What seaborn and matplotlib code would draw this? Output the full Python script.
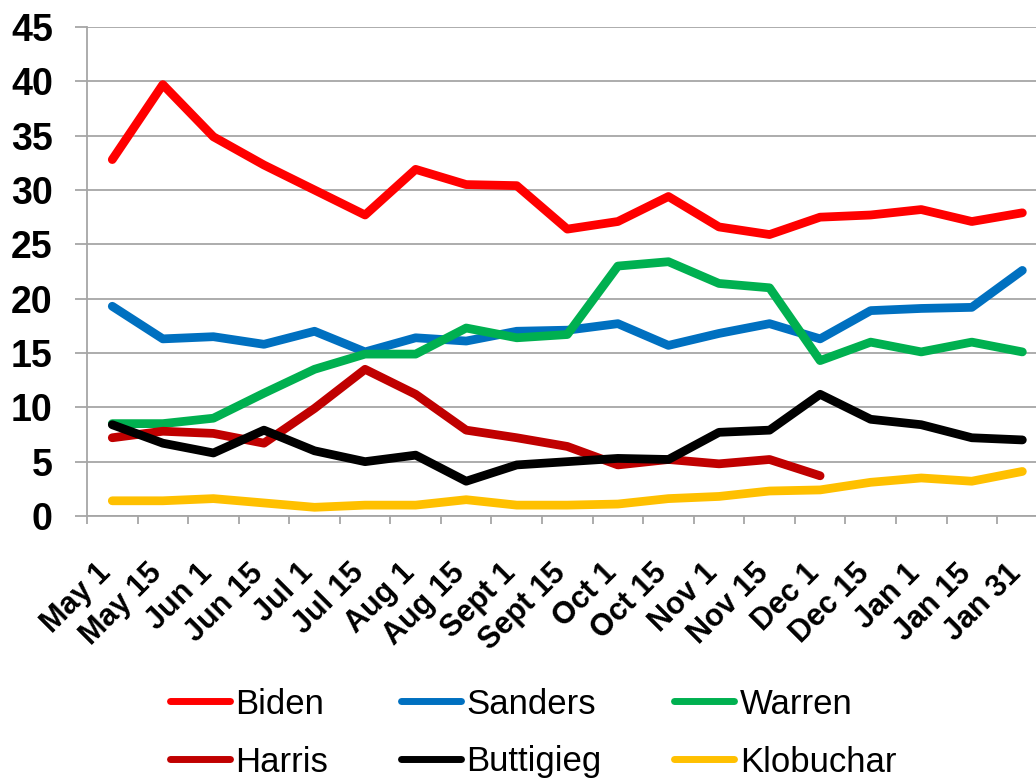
import numpy as np
import pandas as pd
import seaborn as sns
import matplotlib.pyplot as plt
from matplotlib.ticker import FixedLocator
from matplotlib.transforms import ScaledTranslation

sns.set_theme(style="white")
plt.rcParams['font.family'] = ['Liberation Sans', 'DejaVu Sans']
plt.rcParams['text.color'] = 'black'

# %% data
dates = ["May 1", "May 15", "Jun 1", "Jun 15", "Jul 1", "Jul 15", "Aug 1", "Aug 15",
         "Sept 1", "Sept 15", "Oct 1", "Oct 15", "Nov 1", "Nov 15", "Dec 1", "Dec 15",
         "Jan 1", "Jan 15", "Jan 31"]
biden = [32.8, 39.7, 34.9, 32.3, 30.0, 27.7, 31.9, 30.5, 30.4, 26.4, 27.1, 29.4,
         26.6, 25.9, 27.5, 27.7, 28.2, 27.1, 27.9]
sanders = [19.3, 16.3, 16.5, 15.8, 17.0, 15.1, 16.4, 16.1, 17.0, 17.1, 17.7, 15.7,
           16.8, 17.7, 16.3, 18.9, 19.1, 19.2, 22.6]
warren = [8.5, 8.5, 9.0, 11.3, 13.5, 14.9, 14.9, 17.3, 16.4, 16.7, 23.0, 23.4,
          21.4, 21.0, 14.3, 16.0, 15.1, 16.0, 15.1]
harris = [7.2, 7.8, 7.6, 6.7, 9.9, 13.5, 11.2, 7.9, 7.2, 6.4, 4.7, 5.2,
          4.8, 5.2, 3.7, np.nan, np.nan, np.nan, np.nan]
buttigieg = [8.4, 6.7, 5.8, 7.9, 6.0, 5.0, 5.6, 3.2, 4.7, 5.0, 5.3, 5.2,
             7.7, 7.9, 11.2, 8.9, 8.4, 7.2, 7.0]
klobuchar = [1.4, 1.4, 1.6, 1.2, 0.8, 1.0, 1.0, 1.5, 1.0, 1.0, 1.1, 1.6,
             1.8, 2.3, 2.4, 3.1, 3.5, 3.2, 4.1]

names = ["Biden", "Sanders", "Warren", "Harris", "Buttigieg", "Klobuchar"]
colors = ["#FF0000", "#0070C0", "#00B050", "#C00000", "#000000", "#FFC000"]

df = pd.DataFrame({"date": dates, "Biden": biden, "Sanders": sanders, "Warren": warren,
                   "Harris": harris, "Buttigieg": buttigieg, "Klobuchar": klobuchar})
df["pos"] = np.arange(len(dates))
df = df.melt(id_vars=["date", "pos"], var_name="candidate", value_name="value").dropna()

# %% plot
fig = plt.figure(figsize=(10.36, 7.78), dpi=100)
ax = fig.add_axes([87 / 1036, 1 - 516 / 778, (1036 - 87) / 1036, (516 - 27) / 778])

sns.lineplot(ax=ax, data=df, x="pos", y="value", hue="candidate", hue_order=names,
             palette=dict(zip(names, colors)), estimator=None, linewidth=6.3,
             solid_capstyle="round", solid_joinstyle="round")

grey = "#A6A6A6"
ax.set(xlabel="", ylabel="", ylim=(0, 45), xlim=(-0.5, 18.27))
ax.set_yticks(range(0, 46, 5))
ax.yaxis.grid(True, color=grey, lw=1.3)
ax.set_axisbelow(True)
for s in ["top", "right"]:
    ax.spines[s].set_visible(False)
for s in ["left", "bottom"]:
    ax.spines[s].set_color(grey)
    ax.spines[s].set_linewidth(1.3)

ax.set_xticks(range(len(dates)))
ax.set_xticklabels(dates, rotation=45, ha="right", va="baseline", rotation_mode="anchor",
                   fontsize=22, fontweight="bold")
shift = ScaledTranslation(6 / 100, 0, fig.dpi_scale_trans)
for t in ax.get_xticklabels():
    t.set_transform(t.get_transform() + shift)
ax.xaxis.set_minor_locator(FixedLocator(np.arange(-0.5, len(dates), 1)))
ax.tick_params(axis="x", which="major", length=0, pad=42, labelcolor="black")
ax.tick_params(axis="x", which="minor", length=6, width=1.3, color=grey, bottom=True)
ax.tick_params(axis="y", length=8.6, width=1.3, color=grey, left=True, pad=16,
               labelsize=27, labelcolor="black")
for t in ax.get_yticklabels():
    t.set_fontweight("bold")

# legend filled row by row like the original (3 columns x 2 rows)
handles, labels = ax.get_legend_handles_labels()
order = [0, 3, 1, 4, 2, 5]
ax.get_legend().remove()
leg = ax.legend([handles[i] for i in order], [labels[i] for i in order],
                loc="center", bbox_to_anchor=(533 / 1036, 1 - 733 / 778),
                bbox_transform=fig.transFigure, ncol=3, frameon=False,
                fontsize=25, handlelength=1.73, handletextpad=0.15, columnspacing=2.1,
                labelspacing=0.72)
for h in leg.get_lines():
    h.set_linewidth(5)
    h.set_solid_capstyle("round")

fig.savefig("out.png", dpi=100)
